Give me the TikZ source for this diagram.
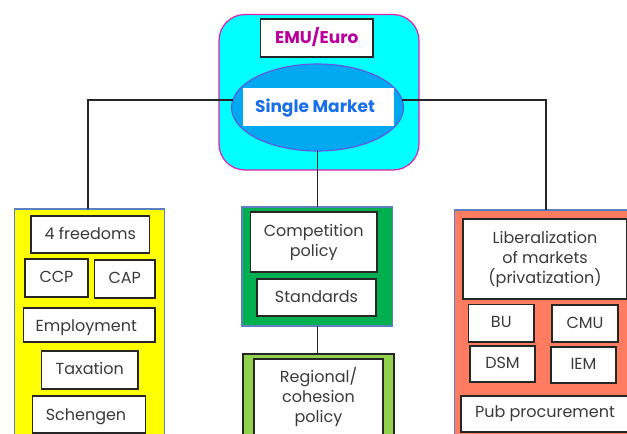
\documentclass[tikz,border=0pt]{standalone}
\usepackage{fontspec}
\setmainfont{Poppins}
\usetikzlibrary{shapes.geometric}
\definecolor{txt}{HTML}{3A3A3A}
\definecolor{panelblue}{HTML}{5B7FC0}
\definecolor{mag}{HTML}{E020B0}
\definecolor{emu}{HTML}{B8009A}
\definecolor{sm}{HTML}{1A6FE8}
\definecolor{aqua}{HTML}{00FFFF}
\definecolor{yel}{HTML}{FFFF00}
\definecolor{ellfill}{HTML}{00A8F0}
\definecolor{ellline}{HTML}{6A50E0}
\definecolor{gr}{HTML}{00B050}
\definecolor{lg}{HTML}{92D050}
\definecolor{salmon}{HTML}{FF7C60}
\tikzset{
  rect/.style={draw,rectangle,inner sep=0pt,outer sep=0pt,align=center},
  whitebox/.style={rect,fill=white,draw=black!85,line width=1.4pt,text=txt,font=\fontsize{16}{20}\selectfont},
  panel/.style={rect,line width=1.2pt},
  link/.style={draw=black!85,line width=1.4pt}
}
\newcommand\vc[2][4.5]{\smash{\raisebox{-#1pt}{#2}}}
% \bx[style]{name}{x1}{y1}{x2}{y2}{text}
\newcommand\bx[6][whitebox]{%
  \pgfmathsetmacro\bxw{#5-#3}\pgfmathsetmacro\bxh{#6-#4}%
  \pgfmathsetmacro\bxcx{(#3+#5)/2}\pgfmathsetmacro\bxcy{(#4+#6)/2}%
  \node[#1,minimum width=\bxw pt,minimum height=\bxh pt] (#2) at (\bxcx,\bxcy)}
\begin{document}
\begin{tikzpicture}[x=1pt,y=-1pt]
\path[use as bounding box,clip] (0,0) rectangle (627,434);
\fill[white] (0,0) rectangle (627,434);
% top group
\bx[rect,draw=mag,fill=aqua,line width=1.2pt,rounded corners=26pt]{outer}{219}{14.5}{419}{170}{};
\bx[whitebox,font=\fontsize{17}{20}\selectfont\bfseries,text=emu]{emu}{260.5}{19}{373}{57}{\vc[5.5]{EMU/Euro}};
\node[ellipse,draw=ellline,fill=ellfill,line width=1.1pt,inner sep=0pt,outer sep=0pt,minimum width=172pt,minimum height=87pt] (ell) at (317.5,107.5) {};
\bx[rect,fill=white,draw=white,text=sm,font=\fontsize{17}{20}\selectfont\bfseries]{single}{243}{88}{393}{125}{\hspace*{-6pt}\vc[6]{Single Market}};
% left panel
\bx[panel,fill=yel,draw=panelblue]{yellow}{14.5}{209}{164.5}{450}{};
\bx{free}{31}{216}{149.5}{253}{\vc{4 freedoms}};
\bx{ccp}{25}{259}{88}{297}{\vc{CCP}};
\bx{cap}{94.5}{260}{155}{298}{\vc{CAP}};
\bx{empl}{23.5}{308}{155}{342}{\hspace*{-6pt}\vc[6.5]{Employment}};
\bx{tax}{41.5}{351}{138}{389}{\vc{Taxation}};
\bx{sch}{32.5}{396}{145.5}{433}{\hspace*{-6pt}\vc[5.5]{Schengen}};
% centre panels
\bx[panel,fill=gr,draw=panelblue]{green}{242}{207}{392.5}{326}{};
\bx{comp}{250.5}{212}{377}{272}{Competition\\policy};
\bx{stand}{257}{279}{376}{316}{\vc{Standards}};
\bx[panel,fill=lg,draw=black!85]{light}{243}{354}{394}{460}{};
\bx{reg}{254}{359}{383}{435}{Regional/\\cohesion\\policy};
% right panel
\bx[panel,fill=salmon,draw=panelblue]{red}{454.5}{210}{660}{460}{};
\bx{lib}{463}{219}{627}{299}{Liberalization\\of markets\\(privatization)};
\bx{bu}{468.5}{304.5}{534}{342}{\vc{BU}};
\bx{cmu}{552}{305}{618}{342}{\vc{CMU}};
\bx{dsm}{470}{346}{535}{382}{\vc{DSM}};
\bx{iem}{551}{347}{616}{383}{\vc{IEM}};
\bx{pub}{461}{396}{629}{432}{\vc[3.5]{Pub procurement}};
% connectors
\coordinate (lt) at (88,209);
\coordinate (rt) at (546,210);
\draw[link] (ell.175) -| (lt);
\draw[link] (ell.5) -| (rt);
\draw[link] (green.north |- ell.south) -- (green.north);
\draw[link] (green.south) -- (green.south |- light.north);
\end{tikzpicture}
\end{document}
